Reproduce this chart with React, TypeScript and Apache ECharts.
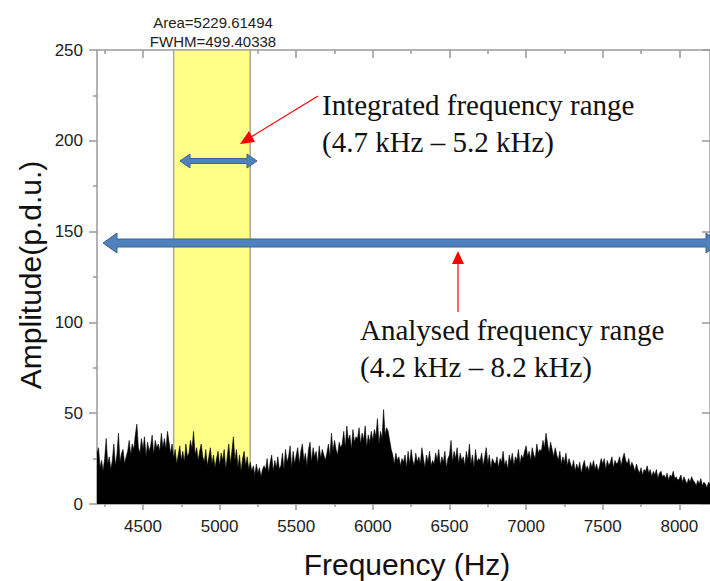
import React, { useEffect, useRef } from "react";
import * as echarts from "echarts";

// Frequency axis (Hz)
const freqMin = 4200;
const freqMax = 8200;
const freqStart = 4200;
const freqStep = 10;
const xMajorTicks = [4500, 5000, 5500, 6000, 6500, 7000, 7500, 8000];
const xMinorTicks = [4250, 4750, 5250, 5750, 6250, 6750, 7250, 7750];

// Amplitude axis
const ampMin = 0;
const ampMax = 250;
const ampInterval = 50;

// Integrated range (Hz)
const bandStart = 4700;
const bandEnd = 5200;

// Amplitude values (p.d.u.), one every 10 Hz from 4200 Hz to 8200 Hz
const amplitude = [
  28, 31, 20, 24, 18, 25, 36, 22, 26, 19, // 4200
  24, 33, 21, 27, 39, 23, 28, 30, 22, 26, // 4300
  29, 35, 27, 33, 30, 38, 44, 31, 28, 36, // 4400
  30, 37, 26, 34, 29, 32, 38, 27, 35, 31, // 4500
  33, 29, 39, 31, 36, 30, 40, 34, 28, 33, // 4600
  25, 30, 22, 27, 32, 24, 29, 23, 33, 26, // 4700
  28, 35, 30, 40, 27, 31, 24, 29, 33, 26, // 4800
  23, 30, 21, 26, 31, 22, 27, 20, 25, 29, // 4900
  21, 28, 24, 30, 19, 26, 33, 22, 29, 37, // 5000
  24, 30, 20, 27, 18, 25, 29, 21, 26, 19, // 5100
  23, 18, 21, 16, 22, 17, 20, 15, 19, 21, // 5200
  19, 25, 17, 23, 27, 18, 24, 20, 26, 19, // 5300
  21, 28, 19, 30, 23, 26, 32, 20, 29, 22, // 5400
  27, 31, 22, 29, 33, 24, 28, 21, 30, 34, // 5500
  23, 31, 26, 29, 22, 32, 25, 30, 27, 24, // 5600
  28, 33, 26, 39, 29, 35, 30, 27, 34, 31, // 5700
  33, 40, 31, 43, 35, 38, 30, 41, 34, 37, // 5800
  36, 42, 33, 39, 35, 43, 31, 38, 34, 40, // 5900
  35, 41, 37, 47, 33, 40, 36, 52, 38, 42, // 6000
  40, 35, 30, 27, 22, 28, 24, 26, 21, 25, // 6100
  23, 27, 20, 29, 22, 30, 24, 21, 28, 23, // 6200
  26, 22, 31, 25, 20, 27, 23, 29, 21, 24, // 6300
  22, 28, 24, 30, 21, 26, 23, 29, 20, 25, // 6400
  27, 35, 23, 29, 25, 31, 22, 28, 24, 26, // 6500
  21, 29, 24, 33, 22, 27, 20, 30, 23, 25, // 6600
  24, 28, 21, 26, 31, 22, 27, 20, 25, 23, // 6700
  22, 26, 20, 25, 23, 29, 21, 24, 19, 27, // 6800
  23, 28, 21, 26, 24, 30, 22, 27, 25, 29, // 6900
  32, 26, 29, 24, 31, 27, 25, 33, 28, 30, // 7000
  29, 35, 31, 39, 33, 28, 34, 30, 26, 31, // 7100
  27, 24, 29, 22, 26, 23, 28, 21, 25, 22, // 7200
  20, 24, 18, 22, 19, 23, 17, 21, 24, 19, // 7300
  21, 18, 23, 20, 24, 19, 22, 18, 21, 25, // 7400
  22, 25, 19, 24, 21, 23, 26, 20, 24, 22, // 7500
  23, 26, 21, 25, 28, 24, 22, 25, 20, 23, // 7600
  21, 18, 22, 19, 17, 20, 16, 19, 18, 21, // 7700
  17, 19, 15, 18, 16, 19, 14, 17, 18, 15, // 7800
  16, 14, 17, 13, 16, 15, 18, 14, 15, 13, // 7900
  14, 16, 12, 15, 13, 11, 14, 12, 15, 13, // 8000
  12, 10, 13, 11, 14, 10, 12, 11, 9, 12,  // 8100
  11, // 8200
];

const areaLabel = "Area=5229.61494";
const fwhmLabel = "FWHM=499.40338";
const integratedText = "Integrated frequency range\n(4.7 kHz – 5.2 kHz)";
const analysedText = "Analysed frequency range\n(4.2 kHz – 8.2 kHz)";

const SANS = "'Liberation Sans', Arial, Helvetica, sans-serif";
const SERIF = "'Liberation Serif', 'Times New Roman', serif";
const AXIS_GREY = "#9a9a9a";
const BLUE_FILL = "#4f81bd";
const BLUE_EDGE = "#3a6491";

export default function App() {
  const ref = useRef<HTMLDivElement>(null);

  useEffect(() => {
    if (!ref.current) return;
    const chart = echarts.init(ref.current, null, { renderer: "svg" });

    const seriesData = amplitude.map((v, i) => [freqStart + i * freqStep, v]);

    const baseX = {
      type: "value" as const,
      min: freqMin,
      max: freqMax,
      splitLine: { show: false },
    };

    chart.setOption({
      animation: false,
      backgroundColor: "#ffffff",
      grid: { left: 97, top: 50, right: -7, bottom: 77 },
      xAxis: [
        {
          ...baseX,
          position: "bottom",
          axisLine: { show: true, lineStyle: { color: AXIS_GREY, width: 1.5 } },
          axisTick: {
            show: true,
            inside: false,
            length: 6,
            customValues: xMajorTicks,
            lineStyle: { color: AXIS_GREY, width: 1.5 },
          },
          axisLabel: {
            show: true,
            customValues: xMajorTicks,
            formatter: (v: number) => String(v),
            margin: 14,
            fontSize: 17,
            fontFamily: SANS,
            color: "#222",
          },
        },
        {
          ...baseX,
          position: "bottom",
          axisLine: { show: false },
          axisTick: {
            show: true,
            inside: false,
            length: 3,
            customValues: xMinorTicks,
            lineStyle: { color: AXIS_GREY, width: 1.5 },
          },
          axisLabel: { show: false },
        },
        {
          ...baseX,
          position: "top",
          axisLine: { show: true, lineStyle: { color: AXIS_GREY, width: 1.5 } },
          axisTick: {
            show: true,
            inside: true,
            length: 8,
            customValues: xMajorTicks,
            lineStyle: { color: AXIS_GREY, width: 1.5 },
          },
          axisLabel: { show: false },
        },
        {
          ...baseX,
          position: "top",
          axisLine: { show: false },
          axisTick: {
            show: true,
            inside: true,
            length: 4,
            customValues: xMinorTicks,
            lineStyle: { color: AXIS_GREY, width: 1.5 },
          },
          axisLabel: { show: false },
        },
      ],
      yAxis: [
        {
          type: "value",
          position: "left",
          min: ampMin,
          max: ampMax,
          interval: ampInterval,
          splitLine: { show: false },
          axisLine: { show: true, lineStyle: { color: AXIS_GREY, width: 1.5 } },
          axisTick: { show: true, inside: false, length: 8, lineStyle: { color: AXIS_GREY, width: 1.5 } },
          minorTick: { show: true, splitNumber: 2, length: 4, lineStyle: { color: AXIS_GREY, width: 1.5 } },
          axisLabel: { margin: 14, fontSize: 17, fontFamily: SANS, color: "#222" },
        },
        {
          type: "value",
          position: "right",
          min: ampMin,
          max: ampMax,
          interval: ampInterval,
          splitLine: { show: false },
          axisLine: { show: true, lineStyle: { color: AXIS_GREY, width: 1.5 } },
          axisTick: { show: true, inside: true, length: 8, lineStyle: { color: AXIS_GREY, width: 1.5 } },
          axisLabel: { show: false },
        },
      ],
      series: [
        {
          name: "band",
          type: "line",
          xAxisIndex: 0,
          yAxisIndex: 0,
          data: [],
          z: 1,
          silent: true,
          markArea: {
            silent: true,
            itemStyle: { color: "#ffff88", borderColor: "#a8a8a0", borderWidth: 1.5 },
            data: [[{ xAxis: bandStart }, { xAxis: bandEnd }]],
          },
        },
        {
          name: "Amplitude",
          type: "line",
          xAxisIndex: 0,
          yAxisIndex: 0,
          data: seriesData,
          z: 3,
          showSymbol: false,
          symbol: "none",
          lineStyle: { color: "#000", width: 0.6 },
          areaStyle: { color: "#000", opacity: 1 },
        },
      ],
      graphic: [
        {
          type: "text",
          x: 213,
          y: 22,
          z: 100,
          style: { text: areaLabel, font: `15px ${SANS}`, fill: "#222", align: "center", verticalAlign: "middle" },
        },
        {
          type: "text",
          x: 213,
          y: 41,
          z: 100,
          style: { text: fwhmLabel, font: `15px ${SANS}`, fill: "#222", align: "center", verticalAlign: "middle" },
        },
        {
          type: "text",
          x: 407,
          y: 564,
          z: 100,
          style: { text: "Frequency (Hz)", font: `30px ${SANS}`, fill: "#111", align: "center", verticalAlign: "middle" },
        },
        {
          type: "text",
          x: 30,
          y: 275,
          rotation: Math.PI / 2,
          z: 100,
          style: { text: "Amplitude(p.d.u.)", font: `30px ${SANS}`, fill: "#111", align: "center", verticalAlign: "middle" },
        },
        {
          type: "text",
          x: 322,
          y: 86,
          z: 100,
          style: { text: integratedText, font: `29px ${SERIF}`, fill: "#111", align: "left", verticalAlign: "top", lineHeight: 37 },
        },
        {
          type: "text",
          x: 360,
          y: 311,
          z: 100,
          style: { text: analysedText, font: `29px ${SERIF}`, fill: "#111", align: "left", verticalAlign: "top", lineHeight: 37 },
        },
        // red arrow 1
        {
          type: "line",
          z: 100,
          shape: { x1: 318, y1: 96, x2: 251, y2: 137 },
          style: { stroke: "#ff0000", lineWidth: 1.2 },
        },
        {
          type: "polygon",
          z: 100,
          shape: { points: [[240, 144], [255, 142], [249, 131]] },
          style: { fill: "#ff0000" },
        },
        // red arrow 2
        {
          type: "line",
          z: 100,
          shape: { x1: 458, y1: 312, x2: 458, y2: 263 },
          style: { stroke: "#ff0000", lineWidth: 1.2 },
        },
        {
          type: "polygon",
          z: 100,
          shape: { points: [[458, 251], [452, 264], [464, 264]] },
          style: { fill: "#ff0000" },
        },
        // small blue double arrow
        {
          type: "polygon",
          z: 100,
          shape: {
            points: [
              [180, 161], [190, 154], [190, 158.5], [247, 158.5], [247, 154], [257, 161],
              [247, 168], [247, 163.5], [190, 163.5], [190, 168],
            ],
          },
          style: { fill: BLUE_FILL, stroke: BLUE_EDGE, lineWidth: 1 },
        },
        // big blue double arrow
        {
          type: "polygon",
          z: 100,
          shape: {
            points: [
              [103, 243], [117, 233], [117, 239], [706, 239], [706, 233], [720, 243],
              [706, 253], [706, 247], [117, 247], [117, 253],
            ],
          },
          style: { fill: BLUE_FILL, stroke: BLUE_EDGE, lineWidth: 1 },
        },
      ],
    });

    return () => chart.dispose();
  }, []);

  return (
    <div
      ref={ref}
      style={{ position: "fixed", left: 0, top: 0, width: 710, height: 581, background: "#fff" }}
    />
  );
}
